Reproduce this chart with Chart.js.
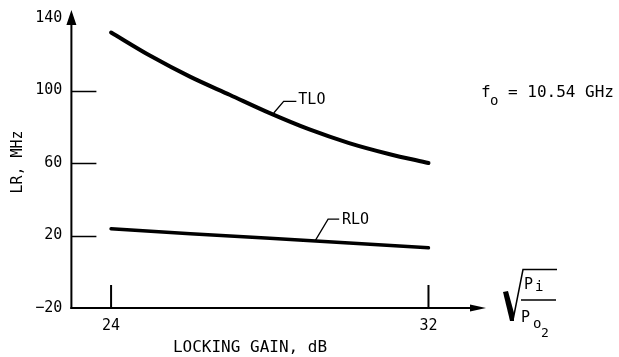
<!DOCTYPE html>
<html><head><meta charset="utf-8">
<script src="https://cdn.jsdelivr.net/npm/chart.js@4"></script>
<style>html,body{margin:0;padding:0;background:#fff}#wrap{width:619px;height:357px}</style>
</head><body><div id="wrap"><canvas id="c" width="619" height="357"></canvas></div>
<script>
// ---- data ----
const gainDb = [24, 25, 26, 27, 28, 29, 30, 31, 32];
const tloMHz = [132, 119, 107.5, 97.5, 87.5, 78.5, 71, 65, 60];
const rloGainDb = [24, 26, 28, 30, 32];
const rloMHz = [23.7, 21, 18.5, 15.8, 13.2];
const xTickValues = [24, 32];
const yTickValues = [-20, 20, 60, 100, 140];
const yInnerTickValues = [20, 60, 100];
const seriesNames = ['TLO', 'RLO'];
const xAxisTitle = 'LOCKING GAIN, dB';
const yAxisTitle = 'LR, MHz';

// ---- label anchors (data coordinates) ----
const labelAnchors = {
  TLO: { leader: [[28.10, 87.6], [28.35, 94], [28.67, 94]], text: [28.72, 94.5] },
  RLO: { leader: [[29.15, 17.3], [29.47, 29.0], [29.75, 29.0]], text: [29.82, 28.6] }
};

const FONT = '"DejaVu Sans Mono", monospace';

const decor = {
  id: 'decor',
  afterDraw(chart) {
    const ctx = chart.ctx;
    const xs = chart.scales.x, ys = chart.scales.y;
    const ca = chart.chartArea;
    const x0 = ca.left, yb = ys.getPixelForValue(-20);
    ctx.save();
    ctx.strokeStyle = '#000'; ctx.fillStyle = '#000';
    // y axis
    ctx.lineWidth = 2;
    ctx.beginPath(); ctx.moveTo(x0, yb + 1); ctx.lineTo(x0, ca.top + 4); ctx.stroke();
    ctx.beginPath(); ctx.moveTo(x0, ca.top - 8); ctx.lineTo(x0 - 5, ca.top + 7); ctx.lineTo(x0 + 5, ca.top + 7); ctx.closePath(); ctx.fill();
    // x axis
    ctx.beginPath(); ctx.moveTo(x0 - 1, yb); ctx.lineTo(ca.right - 10, yb); ctx.stroke();
    ctx.beginPath(); ctx.moveTo(ca.right, yb); ctx.lineTo(ca.right - 16, yb - 3.5); ctx.lineTo(ca.right - 16, yb + 3.5); ctx.closePath(); ctx.fill();
    // inner y ticks
    ctx.lineWidth = 1.5;
    yInnerTickValues.forEach(v => {
      const p = Math.round(ys.getPixelForValue(v)) + 0.5;
      ctx.beginPath(); ctx.moveTo(x0, p); ctx.lineTo(x0 + 25, p); ctx.stroke();
    });
    // x ticks
    ctx.lineWidth = 2;
    xTickValues.forEach(v => {
      const p = xs.getPixelForValue(v);
      ctx.beginPath(); ctx.moveTo(p, yb); ctx.lineTo(p, yb - 23); ctx.stroke();
    });
    // series labels with leaders
    ctx.lineWidth = 1.3;
    ctx.font = '15px ' + FONT;
    ctx.textBaseline = 'middle'; ctx.textAlign = 'left';
    seriesNames.forEach(n => {
      const a = labelAnchors[n];
      ctx.beginPath();
      a.leader.forEach((pt, i) => {
        const px = xs.getPixelForValue(pt[0]), py = ys.getPixelForValue(pt[1]);
        if (i === 0) ctx.moveTo(px, py); else ctx.lineTo(px, py);
      });
      ctx.stroke();
      ctx.fillText(n, xs.getPixelForValue(a.text[0]), ys.getPixelForValue(a.text[1]));
    });
    // axis titles
    ctx.font = '16px ' + FONT;
    ctx.textAlign = 'center';
    ctx.fillText(xAxisTitle, 250, 348);
    ctx.save();
    ctx.translate(18, 162); ctx.rotate(-Math.PI / 2);
    ctx.font = '15px ' + FONT;
    ctx.fillText(yAxisTitle, 0, 0);
    ctx.restore();
    // f_o annotation
    ctx.textAlign = 'left'; ctx.textBaseline = 'alphabetic';
    ctx.font = '16px ' + FONT;
    ctx.fillText('f', 481, 97);
    ctx.font = '14px ' + FONT;
    ctx.fillText('o', 490, 105);
    ctx.font = '16px ' + FONT;
    ctx.fillText('= 10.54 GHz', 508, 97);
    // sqrt(Pi / Po2)
    ctx.beginPath();
    ctx.moveTo(503, 292); ctx.lineTo(508, 291); ctx.lineTo(514, 313); ctx.lineTo(514, 321); ctx.lineTo(510, 321); ctx.closePath(); ctx.fill();
    ctx.lineWidth = 1.5;
    ctx.beginPath(); ctx.moveTo(513, 320); ctx.lineTo(523, 269.5); ctx.lineTo(557, 269.5); ctx.stroke();
    ctx.beginPath(); ctx.moveTo(521, 300); ctx.lineTo(556, 300); ctx.stroke();
    ctx.font = '15px ' + FONT;
    ctx.fillText('P', 524, 289);
    ctx.font = '14px ' + FONT;
    ctx.fillText('i', 535, 291);
    ctx.font = '15px ' + FONT;
    ctx.fillText('P', 521, 322);
    ctx.font = '14px ' + FONT;
    ctx.fillText('o', 533, 328);
    ctx.font = '13px ' + FONT;
    ctx.fillText('2', 541, 337);
    ctx.restore();
  }
};

new Chart(document.getElementById('c'), {
  type: 'line',
  data: {
    datasets: [
      { label: seriesNames[0], data: gainDb.map((g, i) => ({ x: g, y: tloMHz[i] })),
        borderColor: '#000', borderWidth: 4, pointRadius: 0, cubicInterpolationMode: 'monotone', fill: false, borderCapStyle: 'round' },
      { label: seriesNames[1], data: rloGainDb.map((g, i) => ({ x: g, y: rloMHz[i] })),
        borderColor: '#000', borderWidth: 3.5, pointRadius: 0, tension: 0, fill: false, borderCapStyle: 'round' }
    ]
  },
  options: {
    responsive: false, animation: false, devicePixelRatio: 1,
    layout: { padding: { left: 0, right: 133, top: 16, bottom: 0 } },
    plugins: { legend: { display: false }, tooltip: { enabled: false } },
    scales: {
      x: {
        type: 'linear', min: 23, max: 33.45,
        grid: { display: false, drawTicks: false }, border: { display: false },
        afterBuildTicks: s => { s.ticks = xTickValues.map(v => ({ value: v })); },
        afterFit: s => { s.height = 49; },
        ticks: { color: '#000', font: { family: FONT, size: 15 }, padding: 9, maxRotation: 0, autoSkip: false }
      },
      y: {
        type: 'linear', min: -20, max: 140,
        grid: { display: false, drawTicks: false }, border: { display: false },
        afterBuildTicks: s => { s.ticks = yTickValues.map(v => ({ value: v })); },
        afterFit: s => { s.width = 71.4; },
        ticks: { color: '#000', font: { family: FONT, size: 15 }, padding: 9, callback: v => (v < 0 ? '\u2212' + Math.abs(v) : v) }
      }
    }
  },
  plugins: [decor]
});
</script>
</body></html>
